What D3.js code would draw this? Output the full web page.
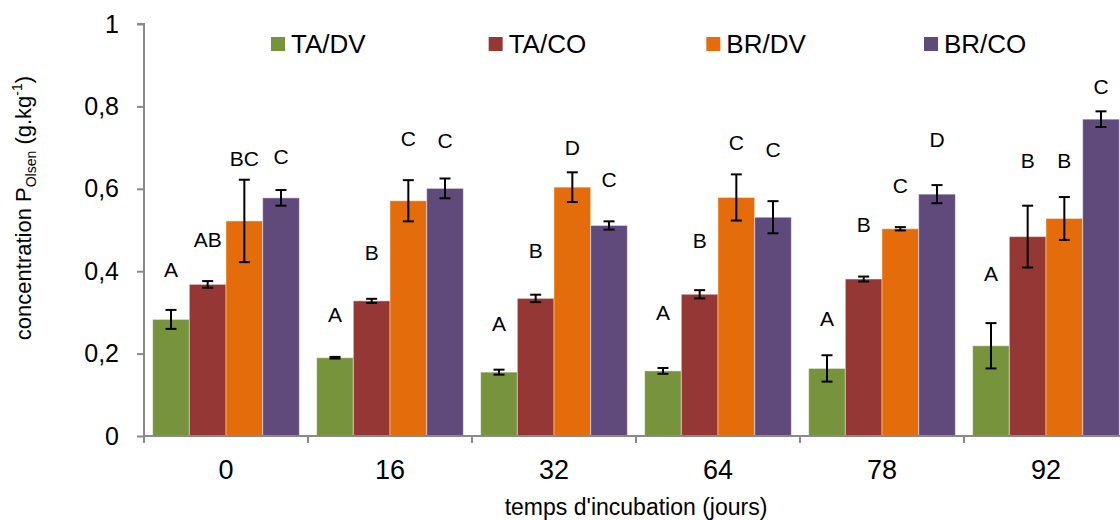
<!DOCTYPE html>
<html>
<head>
<meta charset="utf-8">
<script src="https://cdn.jsdelivr.net/npm/d3@7"></script>
<style>
  html, body { margin: 0; padding: 0; background: #fff; }
  svg { display: block; font-family: "Liberation Sans", Arial, sans-serif; }
</style>
</head>
<body>
<svg id="chart" width="1120" height="520"></svg>
<script>
// ---- data ----
const categories = ["0", "16", "32", "64", "78", "92"];
const seriesNames = ["TA/DV", "TA/CO", "BR/DV", "BR/CO"];
const seriesColors = ["#77933C", "#953735", "#E46C0A", "#604A7B"];

const taDV    = [0.283, 0.190, 0.155, 0.158, 0.164, 0.219];
const taDVErr = [0.023, 0.002, 0.006, 0.007, 0.032, 0.055];
const taCO    = [0.368, 0.328, 0.334, 0.344, 0.381, 0.484];
const taCOErr = [0.008, 0.005, 0.009, 0.010, 0.006, 0.075];
const brDV    = [0.522, 0.571, 0.604, 0.579, 0.503, 0.528];
const brDVErr = [0.100, 0.050, 0.036, 0.056, 0.004, 0.052];
const brCO    = [0.578, 0.601, 0.511, 0.531, 0.587, 0.769];
const brCOErr = [0.019, 0.024, 0.010, 0.039, 0.022, 0.019];

// significance letters and the value height at which each one sits
const taDVLetters = ["A", "A", "A", "A", "A", "A"];
const taDVLetterAt = [0.385, 0.276, 0.255, 0.282, 0.267, 0.377];
const taCOLetters = ["AB", "B", "B", "B", "B", "B"];
const taCOLetterAt = [0.459, 0.427, 0.431, 0.456, 0.496, 0.650];
const brDVLetters = ["BC", "C", "D", "C", "C", "B"];
const brDVLetterAt = [0.655, 0.705, 0.682, 0.694, 0.589, 0.650];
const brCOLetters = ["C", "C", "C", "C", "D", "C"];
const brCOLetterAt = [0.659, 0.698, 0.605, 0.678, 0.702, 0.830];

const yTicks = [0, 0.2, 0.4, 0.6, 0.8, 1];
const xTitle = "temps d'incubation (jours)";

// ---- build ----
const values = [taDV, taCO, brDV, brCO];
const errs = [taDVErr, taCOErr, brDVErr, brCOErr];
const letters = [taDVLetters, taCOLetters, brDVLetters, brCOLetters];
const letterAt = [taDVLetterAt, taCOLetterAt, brDVLetterAt, brCOLetterAt];

const rows = [];
categories.forEach((c, i) => {
  seriesNames.forEach((s, j) => {
    rows.push({ cat: c, series: s, si: j, v: values[j][i], e: errs[j][i],
                letter: letters[j][i], lat: letterAt[j][i] });
  });
});

const svg = d3.select("#chart");
const axisColor = "#8a8a8a";

const y = d3.scaleLinear().domain([0, 1]).range([436, 24]);
const x0 = d3.scaleBand().domain(categories).range([144, 1128]).padding(0);
const x1 = d3.scaleBand().domain(seriesNames).range([0, x0.bandwidth()])
  .paddingInner(0).paddingOuter(0.236);
const color = d3.scaleOrdinal().domain(seriesNames).range(seriesColors);

// bars
svg.append("g").selectAll("rect").data(rows).join("rect")
  .attr("x", d => x0(d.cat) + x1(d.series))
  .attr("y", d => y(d.v))
  .attr("width", x1.bandwidth())
  .attr("height", d => y(0) - y(d.v))
  .attr("fill", d => color(d.series))
  .attr("stroke", "rgba(255,255,255,0.45)")
  .attr("stroke-width", 1);

// error bars
const eb = svg.append("g").attr("stroke", "#000").attr("stroke-width", 2);
const cap = 5.5;
rows.forEach(d => {
  const cx = x0(d.cat) + x1(d.series) + x1.bandwidth() / 2;
  const yt = y(d.v + d.e), yb = y(d.v - d.e);
  eb.append("line").attr("x1", cx).attr("x2", cx).attr("y1", yt).attr("y2", yb);
  eb.append("line").attr("x1", cx - cap).attr("x2", cx + cap).attr("y1", yt).attr("y2", yt);
  eb.append("line").attr("x1", cx - cap).attr("x2", cx + cap).attr("y1", yb).attr("y2", yb);
});

// letters
svg.append("g").selectAll("text").data(rows).join("text")
  .attr("x", d => x0(d.cat) + x1(d.series) + x1.bandwidth() / 2)
  .attr("y", d => y(d.lat))
  .attr("text-anchor", "middle")
  .attr("font-size", 21)
  .attr("fill", "#000")
  .text(d => d.letter);

// y axis
const yAxis = d3.axisLeft(y).tickValues(yTicks).tickSize(7).tickPadding(18)
  .tickFormat(d => String(d).replace(".", ","));
const gy = svg.append("g").attr("transform", "translate(144,0)").call(yAxis);
gy.select(".domain").attr("stroke", axisColor).attr("stroke-width", 2)
  .attr("d", `M-7,${y(1)}H0V${y(0)}`);
gy.selectAll(".tick line").attr("stroke", axisColor).attr("stroke-width", 2);
gy.selectAll(".tick text").attr("font-size", 25).attr("fill", "#000")
  .attr("font-family", "Liberation Sans, Arial, sans-serif");

// x axis
const xAxis = d3.axisBottom(x0).tickSize(0).tickPadding(24);
const gx = svg.append("g").attr("transform", `translate(0,${y(0)})`).call(xAxis);
gx.select(".domain").attr("stroke", axisColor).attr("stroke-width", 2)
  .attr("d", `M144,0H1128`);
gx.selectAll(".tick text").attr("font-size", 27).attr("fill", "#000")
  .attr("font-family", "Liberation Sans, Arial, sans-serif");
// category boundary ticks
gx.append("g").selectAll("line").data(categories).join("line")
  .attr("x1", d => x0(d)).attr("x2", d => x0(d))
  .attr("y1", 0).attr("y2", 7)
  .attr("stroke", axisColor).attr("stroke-width", 2);

// x title
svg.append("text")
  .attr("x", 636).attr("y", 515)
  .attr("text-anchor", "middle")
  .attr("font-size", 23)
  .text(xTitle);

// y title
const yt = svg.append("text")
  .attr("transform", "translate(31,208) rotate(-90)")
  .attr("text-anchor", "middle")
  .attr("font-size", 22);
yt.append("tspan").text("concentration P");
yt.append("tspan").attr("font-size", 14).attr("dy", 5).text("Olsen");
yt.append("tspan").attr("dy", -5).text(" (g.kg");
yt.append("tspan").attr("font-size", 14).attr("dy", -9).text("-1");
yt.append("tspan").attr("dy", 9).text(")");

// legend
const lg = svg.append("g");
const legendX = d3.scalePoint().domain(seriesNames).range([271, 924]);
seriesNames.forEach(s => {
  const g = lg.append("g").attr("transform", `translate(${legendX(s)},37)`);
  g.append("rect").attr("width", 14).attr("height", 14).attr("fill", color(s));
  g.append("text").attr("x", 20).attr("y", 15.5).attr("font-size", 26).text(s);
});
</script>
</body>
</html>
